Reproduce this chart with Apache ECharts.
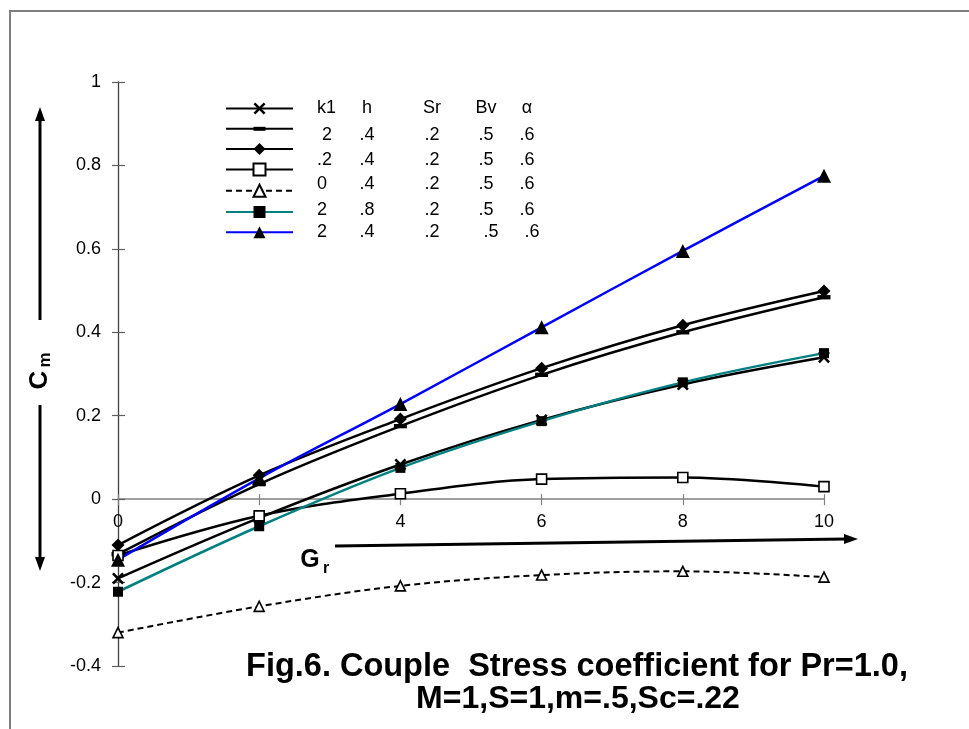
<!DOCTYPE html>
<html>
<head>
<meta charset="utf-8">
<script src="https://cdn.jsdelivr.net/npm/echarts@6/dist/echarts.min.js"></script>
<style>
  html, body { margin: 0; padding: 0; background: #fff; }
  #chart { width: 969px; height: 729px; }
</style>
</head>
<body>
<div id="chart"></div>
<script>
// Grashof number values along the horizontal axis
const grValues = [0, 2, 4, 6, 8, 10];

// Couple stress coefficient Cm for each parameter set
const cmCross    = [-0.19, -0.045, 0.083, 0.19, 0.275, 0.34];
const cmBar      = [-0.132, 0.036, 0.175, 0.298, 0.40, 0.484];
const cmDiamond  = [-0.11, 0.057, 0.192, 0.314, 0.417, 0.499];
const cmSquareO  = [-0.135, -0.04, 0.013, 0.048, 0.052, 0.03];
const cmTriO     = [-0.32, -0.257, -0.208, -0.182, -0.173, -0.187];
const cmSquareF  = [-0.222, -0.065, 0.075, 0.187, 0.28, 0.35];
const cmTriF     = [-0.145, 0.05, 0.228, 0.412, 0.595, 0.775];

// Y axis tick values
const yTicks = { min: -0.4, max: 1, step: 0.2 };

// Parameter table shown beside the key
const tableRows = [
  ['k1', 'h', 'Sr', 'Bv', 'α'],
  [' 2', '.4', '.2', '.5', '.6'],
  ['.2', '.4', '.2', '.5', '.6'],
  ['0', '.4', '.2', '.5', '.6'],
  ['2', '.8', '.2', '.5', '.6'],
  ['2', '.4', '.2', '  .5', '  .6']
];

const titleLines = ['Fig.6. Couple  Stress coefficient for Pr=1.0,', 'M=1,S=1,m=.5,Sc=.22'];

const pts = arr => grValues.map((g, i) => [g, arr[i]]);

const crossPath = 'path://M0,1.5L1.5,0L5,3.5L8.5,0L10,1.5L6.5,5L10,8.5L8.5,10L5,6.5L1.5,10L0,8.5L3.5,5Z';
// flat bar inside a square frame so it keeps its shape in the key as well
const barPath = 'path://M0,0M0,4H12V8H0ZM12,12';

function lineSeries(name, data, opts) {
  return Object.assign({
    name: name,
    type: 'line',
    data: pts(data),
    smooth: 0.35,
    showAllSymbol: true,
    lineStyle: { color: '#000', width: 2.5 },
    itemStyle: { color: '#000' },
    emphasis: { disabled: true },
    animation: false
  }, opts);
}

const series = [
  lineSeries('p1', cmCross, { symbol: crossPath, symbolSize: 12 }),
  lineSeries('p2', cmBar, { symbol: barPath, symbolSize: 13 }),
  lineSeries('p3', cmDiamond, { symbol: 'diamond', symbolSize: 13 }),
  lineSeries('p4', cmSquareO, { symbol: 'rect', symbolSize: 10,
    itemStyle: { color: '#fff', borderColor: '#000', borderWidth: 1.6 } }),
  lineSeries('p5', cmTriO, { symbol: 'triangle', symbolSize: 10,
    lineStyle: { color: '#000', width: 2, type: [6, 4] },
    itemStyle: { color: '#fff', borderColor: '#000', borderWidth: 1.6 } }),
  lineSeries('p6', cmSquareF, { symbol: 'rect', symbolSize: 10,
    lineStyle: { color: '#008080', width: 2.5 } }),
  lineSeries('p7', cmTriF, { symbol: 'triangle', symbolSize: 14,
    lineStyle: { color: '#0000ff', width: 2.5 } })
];

// Plot box
const W = 969, H = 729;
const gridBox = { left: 118, right: 145, top: 82, bottom: 63 };
const plotH = H - gridBox.top - gridBox.bottom;
// distance from the bottom edge of the plot up to the Cm = 0 line
const zeroLift = plotH * (0 - yTicks.min) / (yTicks.max - yTicks.min);

// Parameter table text
const tableFont = '18px "Liberation Sans", Arial, sans-serif';
const colLeft = 317;
const colCenters = [367, 432, 486, 527];
const rowY = [108, 135, 160, 184, 210, 232];
const tableGraphics = [];
tableRows.forEach((row, r) => {
  tableGraphics.push({
    type: 'text', x: colLeft, y: rowY[r],
    style: { text: row[0], font: tableFont, fill: '#000', align: 'left', verticalAlign: 'middle' }
  });
  for (let c = 1; c < row.length; c++) {
    tableGraphics.push({
      type: 'text', x: colCenters[c - 1], y: rowY[r],
      style: { text: row[c], font: tableFont, fill: '#000', align: 'center', verticalAlign: 'middle' }
    });
  }
});

const chart = echarts.init(document.getElementById('chart'), null, { renderer: 'canvas' });

chart.setOption({
  backgroundColor: '#fff',
  animation: false,
  grid: Object.assign({ containLabel: false }, gridBox),
  legend: {
    data: series.map(s => s.name),
    orient: 'vertical',
    left: 220,
    top: 96,
    itemWidth: 67,
    itemHeight: 15,
    itemGap: 6.8,
    formatter: () => '',
    textStyle: { fontSize: 10, padding: 0 },
    selectedMode: false
  },
  xAxis: [{
    type: 'value', min: 0, max: 10, interval: 2, offset: -zeroLift,
    axisLine: { onZero: false, lineStyle: { color: '#808080', width: 1.5 } },
    axisTick: { show: true, length: 6, lineStyle: { color: '#808080', width: 1.2 } },
    axisLabel: { margin: 14, fontSize: 18, color: '#000', fontFamily: '"Liberation Sans", Arial, sans-serif' },
    splitLine: { show: false }
  }, {
    type: 'value', min: 0, max: 10, interval: 2, position: 'bottom', offset: -zeroLift,
    axisLine: { show: false, onZero: false },
    axisTick: { show: true, inside: true, length: 5, lineStyle: { color: '#808080', width: 1.2 } },
    axisLabel: { show: false },
    splitLine: { show: false }
  }],
  yAxis: [{
    type: 'value', min: yTicks.min, max: yTicks.max, interval: yTicks.step,
    axisLine: { show: true, onZero: false, lineStyle: { color: '#404040', width: 1.3 } },
    axisTick: { show: true, length: 6, lineStyle: { color: '#606060', width: 1.2 } },
    axisLabel: { margin: 17, fontSize: 18, color: '#000', fontFamily: '"Liberation Sans", Arial, sans-serif',
      formatter: v => String(Math.round(v * 10) / 10) },
    splitLine: { show: false }
  }, {
    type: 'value', min: yTicks.min, max: yTicks.max, interval: yTicks.step, position: 'left',
    axisLine: { show: false, onZero: false },
    axisTick: { show: true, inside: true, length: 7, lineStyle: { color: '#606060', width: 1.2 } },
    axisLabel: { show: false },
    splitLine: { show: false }
  }],
  series: series,
  graphic: [
    // outer frame
    { type: 'polyline', shape: { points: [[10, 729], [10, 11], [969, 11]] },
      style: { stroke: '#7f7f7f', lineWidth: 2, fill: null }, silent: true },
    // vertical arrow for Cm
    { type: 'line', shape: { x1: 40, y1: 118, x2: 40, y2: 320 }, style: { stroke: '#000', lineWidth: 3 } },
    { type: 'polygon', shape: { points: [[40, 107], [35, 121], [45, 121]] }, style: { fill: '#000' } },
    { type: 'line', shape: { x1: 40, y1: 405, x2: 40, y2: 560 }, style: { stroke: '#000', lineWidth: 3 } },
    { type: 'polygon', shape: { points: [[40, 571], [35, 557], [45, 557]] }, style: { fill: '#000' } },
    { type: 'group', x: 40, y: 372, rotation: Math.PI / 2, children: [
      { type: 'text', x: -8, y: 0, style: { text: 'C', font: 'bold 26px "Liberation Sans", Arial, sans-serif',
        fill: '#000', align: 'center', verticalAlign: 'middle' } },
      { type: 'text', x: 12, y: 5, style: { text: 'm', font: 'bold 17px "Liberation Sans", Arial, sans-serif',
        fill: '#000', align: 'center', verticalAlign: 'middle' } }
    ] },
    // horizontal arrow for Gr
    { type: 'line', shape: { x1: 335, y1: 546, x2: 846, y2: 539 }, style: { stroke: '#000', lineWidth: 3 } },
    { type: 'polygon', shape: { points: [[858, 539], [844, 534], [844, 544]] }, style: { fill: '#000' } },
    { type: 'text', x: 310, y: 560, style: { text: 'G', font: 'bold 25px "Liberation Sans", Arial, sans-serif',
      fill: '#000', align: 'center', verticalAlign: 'middle' } },
    { type: 'text', x: 326, y: 569, style: { text: 'r', font: 'bold 16px "Liberation Sans", Arial, sans-serif',
      fill: '#000', align: 'center', verticalAlign: 'middle' } },
    // caption
    { type: 'text', x: 577, y: 667, style: { text: titleLines[0], font: 'bold 32.5px "Liberation Sans", Arial, sans-serif',
      fill: '#000', align: 'center', verticalAlign: 'middle' } },
    { type: 'text', x: 578, y: 699, style: { text: titleLines[1], font: 'bold 32px "Liberation Sans", Arial, sans-serif',
      fill: '#000', align: 'center', verticalAlign: 'middle' } }
  ].concat(tableGraphics)
});
</script>
</body>
</html>
